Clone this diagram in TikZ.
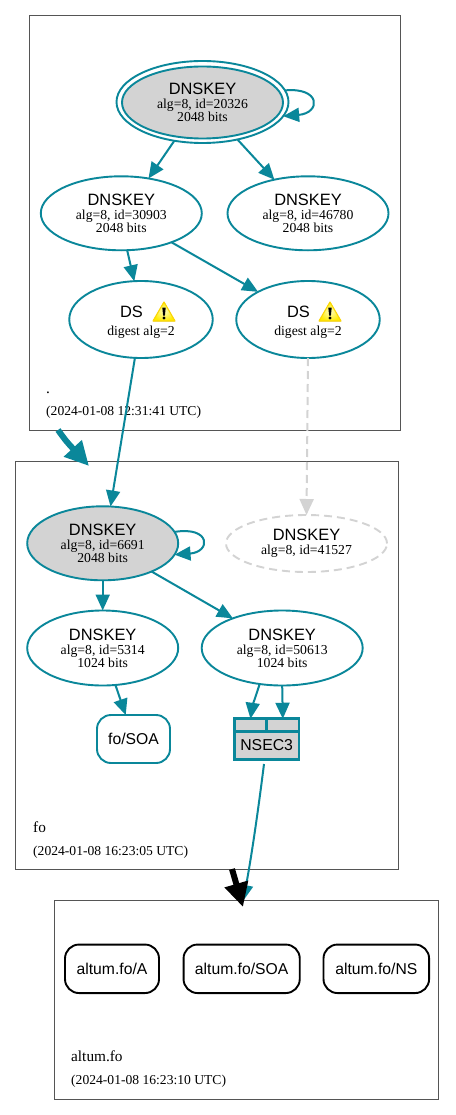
\documentclass[tikz,border=0pt]{standalone}
\usepackage{fontspec}
\setmainfont{Liberation Serif}
\setsansfont{Liberation Sans}
\usetikzlibrary{shapes.geometric,arrows.meta,calc}
\definecolor{dv}{HTML}{0A879A}
\definecolor{dvgray}{HTML}{D3D3D3}
\definecolor{clus}{HTML}{555555}
\newcommand{\hd}[1]{{\sffamily\fontsize{16.4}{18}\selectfont #1}}
\newcommand{\sm}{\fontsize{13.7}{13}\selectfont}
\newcommand{\keytext}[3]{\hd{#1}\\[2pt]{\sm #2}\\[-0.5pt]{\sm #3}}
\newcommand{\warnsign}[2]{%
  \begin{scope}[shift={(#1,#2)}]
    \fill[draw=yellow!75!orange,line width=1.1pt,inner color=yellow!25!white,outer color=yellow!85!orange,line join=round]
      (0,-9.5) -- (11,9.5) -- (-11,9.5) -- cycle;
    \fill[black] (-1.7,-4) -- (1.7,-4) -- (0.9,4) -- (-0.9,4) -- cycle;
    \fill[black] (0,6.5) circle (1.6);
  \end{scope}}
\tikzset{
  x=1pt,y=-1pt,
  clusbox/.style={draw=clus,line width=.9pt,fill=none},
  keynode/.style={ellipse,draw=dv,line width=1.9pt,inner sep=0pt,outer sep=0pt,align=center,fill=white},
  graykey/.style={keynode,fill=dvgray},
  missing/.style={keynode,draw=dvgray,dashed,dash pattern=on 8pt off 5pt},
  rrset/.style={rectangle,rounded corners=14pt,line width=1.9pt,inner sep=0pt,outer sep=0pt,font=\sffamily\fontsize{15.7}{18}\selectfont,fill=white},
  cell/.style={rectangle,draw=dv,fill=dvgray,line width=2.9pt,inner sep=0pt,outer sep=0pt},
  edge/.style={draw=dv,line width=2pt,-{Triangle[length=16pt,width=14pt]}},
  grayedge/.style={draw=dvgray,line width=2pt,dashed,dash pattern=on 8pt off 5pt,-{Triangle[length=16pt,width=14pt,fill=dvgray]}},
  lbl/.style={anchor=base west,inner sep=0pt,font=\fontsize{15.3}{18}\selectfont},
  datelbl/.style={anchor=base west,inner sep=0pt,font=\fontsize{13.6}{16}\selectfont},
}
\begin{document}
\begin{tikzpicture}
\useasboundingbox (0,0) rectangle (455,1115);
\fill[white] (0,0) rectangle (455,1115);
% clusters
\node[clusbox,rectangle,minimum width=370.5pt,minimum height=415pt,inner sep=0pt,outer sep=0pt] (c1) at (214.75,223) {};
\node[clusbox,rectangle,minimum width=382.5pt,minimum height=408pt,inner sep=0pt,outer sep=0pt] (c2) at (206.75,665) {};
\node[clusbox,rectangle,minimum width=383.5pt,minimum height=199pt,inner sep=0pt,outer sep=0pt] (c3) at (246.25,999.5) {};
\node[lbl] (l1a) at (46,393) {.};
\node[datelbl] (l1b) at (46,415) {(2024-01-08 12:31:41 UTC)};
\node[lbl] (l2a) at (33,832) {fo};
\node[datelbl] (l2b) at (33,855) {(2024-01-08 16:23:05 UTC)};
\node[lbl] (l3a) at (71,1061) {altum.fo};
\node[datelbl] (l3b) at (71,1084) {(2024-01-08 16:23:10 UTC)};
% zone .
\node[keynode,minimum width=172pt,minimum height=82pt,fill=none] (ksk) at (202.5,102) {};
\node[graykey,minimum width=161pt,minimum height=72pt] (kskin) at (202.5,102.5) {\keytext{DNSKEY}{alg=8, id=20326}{2048 bits}};
\node[keynode,minimum width=161pt,minimum height=74pt] (n1) at (121.3,213.3) {\keytext{DNSKEY}{alg=8, id=30903}{2048 bits}};
\node[keynode,minimum width=161pt,minimum height=74pt] (n2) at (308,213.3) {\keytext{DNSKEY}{alg=8, id=46780}{2048 bits}};
\node[keynode,minimum width=143.5pt,minimum height=77pt] (d1) at (141,319.5) {};
\node[keynode,minimum width=143.5pt,minimum height=77pt] (d2) at (308,319.5) {};
\node[inner sep=0pt] (d1t) at (131.5,312) {\hd{DS}};
\node[inner sep=0pt] (d2t) at (298.5,312) {\hd{DS}};
\node[inner sep=0pt] (d1s) at (141,332) {\sm digest alg=2};
\node[inner sep=0pt] (d2s) at (308,332) {\sm digest alg=2};
\warnsign{164}{311.5}
\warnsign{330}{311.5}
% zone fo
\node[graykey,minimum width=151pt,minimum height=74pt] (k2) at (102.7,543.3) {\keytext{DNSKEY}{alg=8, id=6691}{2048 bits}};
\node[missing,minimum width=161pt,minimum height=57pt] (z) at (306.5,543.5) {\hd{DNSKEY}\\[2pt]{\sm alg=8, id=41527}};
\node[keynode,minimum width=151pt,minimum height=75pt] (k3) at (102.7,648) {\keytext{DNSKEY}{alg=8, id=5314}{1024 bits}};
\node[keynode,minimum width=161pt,minimum height=75pt] (k4) at (282.2,648) {\keytext{DNSKEY}{alg=8, id=50613}{1024 bits}};
\node[rrset,draw=dv,minimum width=73pt,minimum height=48pt] (fosoa) at (133.5,739) {fo/SOA};
\node[cell,minimum width=32.3pt,minimum height=12.5pt] (pa) at (250.5,725) {};
\node[cell,minimum width=32.3pt,minimum height=12.5pt] (pb) at (282.8,725) {};
\node[cell,minimum width=64.6pt,minimum height=28.5pt,font=\sffamily\fontsize{15.8}{18}\selectfont] (nsec) at (266.65,745.5) {NSEC3};
% zone altum.fo
\node[rrset,draw=black,minimum width=94pt,minimum height=48.5pt] (ra) at (112,968.8) {altum.fo/A};
\node[rrset,draw=black,minimum width=116.2pt,minimum height=48.5pt] (rs) at (241.65,968.8) {altum.fo/SOA};
\node[rrset,draw=black,minimum width=105.6pt,minimum height=48.5pt] (rn) at (376.3,968.8) {altum.fo/NS};
% free ends
\coordinate (c1out) at (58,430);
\coordinate (c1mid) at (66,441);
\coordinate (c2in) at (89,466);
\coordinate (c2out) at (232,869);
\coordinate (c3inb) at (243,907);
\coordinate (nsout) at (264,764);
\coordinate (c3int) at (243,901);
% edges
\draw[edge] (ksk.234) -- (n1.52);
\draw[edge] (ksk.313) -- (n2.135);
\draw[edge] (ksk.8) .. controls (321,87) and (321,113) .. (ksk.350);
\draw[edge] (n1.279) -- (d1.100);
\draw[edge] (n1.330) -- (d2.151);
\draw[edge] (d1.261) -- (k2.78);
\draw[grayedge] (d2.south) -- (z.north);
\draw[edge] (k2.9) .. controls (211,526) and (211,552) .. (k2.351);
\draw[edge] (k2.south) -- (k3.north);
\draw[edge] (k2.330) -- (k4.149);
\draw[edge] (k3.289) -- (fosoa.108);
\draw[edge] (k4.238) .. controls (256,695) and (252,708) .. (pa.north);
\draw[edge] (k4.south) -- (pb.north);
\draw[draw=dv,line width=6pt,-{Triangle[length=24pt,width=23pt]}] (c1out) .. controls (c1mid) .. (c2in);
\draw[edge] (nsout) .. controls (257,820) and (250,865) .. (c3int);
\draw[draw=black,line width=6pt,-{Triangle[length=24pt,width=23pt]}] (c2out) -- (c3inb);
\end{tikzpicture}
\end{document}
